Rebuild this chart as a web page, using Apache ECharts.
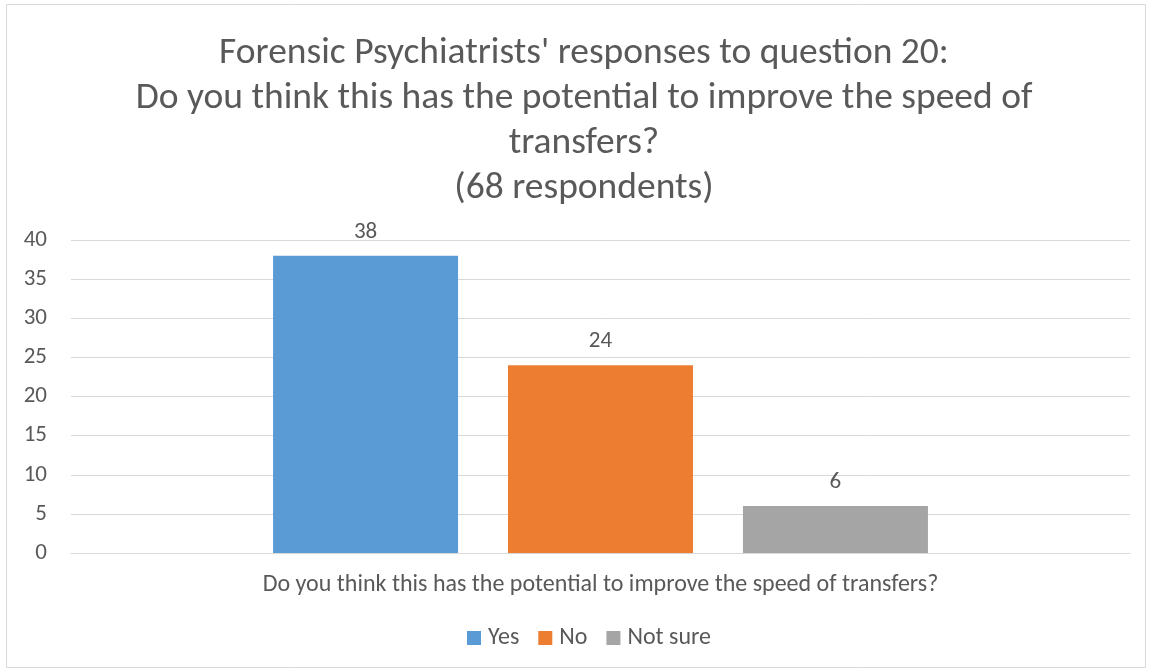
<!DOCTYPE html>
<html>
<head>
<meta charset="utf-8">
<script src="https://cdn.jsdelivr.net/npm/echarts@6/dist/echarts.min.js"></script>
<style>
  html, body { margin: 0; padding: 0; background: #fff; }
  #chart { width: 1152px; height: 672px; }
</style>
</head>
<body>
<div id="chart"></div>
<script>
const categories = ['Do you think this has the potential to improve the speed of transfers?'];
const seriesNames = ['Yes', 'No', 'Not sure'];
const yesValues = [38];
const noValues = [24];
const notSureValues = [6];
const yTicks = { min: 0, max: 40, interval: 5 };

const font = 'Carlito, "Liberation Sans Narrow", "Open Sans", sans-serif';
const textColor = '#595959';
const colors = ['#5b9bd5', '#ed7d31', '#a5a5a5'];

const chart = echarts.init(document.getElementById('chart'));

function bar(name, values, color) {
  return {
    name: name,
    type: 'bar',
    data: values,
    barWidth: 185,
    barGap: '27%',
    itemStyle: { color: color },
    label: {
      show: true,
      position: 'top',
      distance: 12,
      color: textColor,
      fontFamily: font,
      fontSize: 23
    }
  };
}

chart.setOption({
  animation: false,
  textStyle: { fontFamily: font },
  graphic: [{
    type: 'rect',
    shape: { x: 6.5, y: 4.5, width: 1139, height: 663 },
    style: { fill: 'none', stroke: '#d9d9d9', lineWidth: 1 },
    silent: true
  }],
  title: {
    text: "Forensic Psychiatrists' responses to question 20:\nDo you think this has the potential to improve the speed of\ntransfers?\n(68 respondents)",
    left: 579,
    textAlign: 'center',
    top: 26,
    textStyle: {
      fontFamily: font,
      fontSize: 37.5,
      fontWeight: 'normal',
      color: textColor,
      lineHeight: 45,
      align: 'center'
    }
  },
  legend: {
    bottom: 17,
    left: 462,
    itemWidth: 14,
    itemHeight: 14,
    itemGap: 19,
    icon: 'rect',
    textStyle: { color: textColor, fontFamily: font, fontSize: 24, padding: [0, 0, 0, 2] },
    data: seriesNames
  },
  grid: { left: 71, right: 22, top: 240, bottom: 119, containLabel: false },
  xAxis: {
    type: 'category',
    data: categories,
    axisLine: { lineStyle: { color: '#d9d9d9' } },
    axisTick: { show: false },
    axisLabel: { color: textColor, fontFamily: font, fontSize: 24, margin: 20 }
  },
  yAxis: {
    type: 'value',
    min: yTicks.min,
    max: yTicks.max,
    interval: yTicks.interval,
    axisLine: { show: false },
    axisTick: { show: false },
    axisLabel: { color: textColor, fontFamily: font, fontSize: 23, margin: 24 },
    splitLine: { lineStyle: { color: '#d9d9d9' } }
  },
  series: [
    bar(seriesNames[0], yesValues, colors[0]),
    bar(seriesNames[1], noValues, colors[1]),
    bar(seriesNames[2], notSureValues, colors[2])
  ]
});
</script>
</body>
</html>
